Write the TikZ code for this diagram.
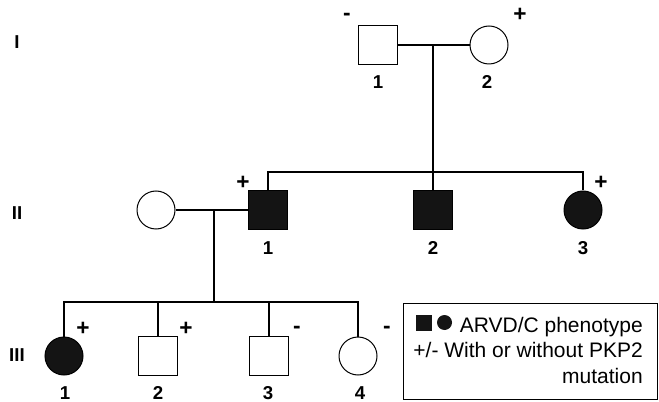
\documentclass[tikz,border=0pt]{standalone}
\usepackage{fontspec}
\setmainfont{Liberation Sans}

\begin{document}
\begin{tikzpicture}[x=0.75pt,y=0.75pt,yscale=-1,xscale=1,
  male/.style={draw,rectangle,minimum size=29pt,inner sep=0pt,line width=0.75pt},
  female/.style={draw,circle,minimum size=28.5pt,inner sep=0pt,line width=0.75pt},
  affected/.style={fill=black!92},
  kin/.style={line width=1.1pt},
  idlabel/.style={font=\fontsize{14}{16}\selectfont\bfseries,inner sep=0.75pt},
  genlabel/.style={font=\fontsize{14}{16}\selectfont\bfseries,inner sep=0.75pt},
  sign/.style={font=\fontsize{17}{18}\selectfont\bfseries,inner sep=0.75pt},
  keytext/.style={font=\fontsize{15.75}{19}\selectfont,inner sep=0pt,anchor=base east}]
\useasboundingbox (0,0) rectangle (659,402);

%Generation I
\node [male] (i1) at (378,45) {};
\node [female] (i2) at (489,45) {};
\coordinate (mI) at (433,45);
\coordinate (sII) at (433,172);

%Generation II
\node [female] (iis) at (156,210) {};
\node [male,affected] (ii1) at (268,210) {};
\node [male,affected] (ii2) at (433,210) {};
\node [female,affected] (ii3) at (583,210) {};
\coordinate (mII) at (214,210);
\coordinate (sIII) at (214,302);

%Generation III
\node [female,affected] (iii1) at (64,356) {};
\node [male] (iii2) at (158,356) {};
\node [male] (iii3) at (269,356) {};
\node [female] (iii4) at (358,356) {};

%Lines of descent
\draw [kin] (i1) -- (i2);
\draw [kin] (mI) -- (sII);
\draw [kin] (ii1) |- (sII) -| (ii3);
\draw [kin] (sII) -- (ii2);
\draw [kin] (iis) -- (ii1);
\draw [kin] (mII) -- (sIII);
\draw [kin] (iii1) |- (sIII) -| (iii4);
\draw [kin] (iii2) -- (iii2 |- sIII);
\draw [kin] (iii3) -- (iii3 |- sIII);

% Generation numerals
\node [genlabel] (gI) at (17,42) {I};
\node [genlabel] (gII) at (17,213) {II};
\node [genlabel] (gIII) at (17,355) {III};

% Individual numbers
\node [idlabel] (n-i1) at (378,82) {1};
\node [idlabel] (n-i2) at (487,82) {2};
\node [idlabel] (n-ii1) at (268,248) {1};
\node [idlabel] (n-ii2) at (433,248) {2};
\node [idlabel] (n-ii3) at (583,248) {3};
\node [idlabel] (n-iii1) at (65,393) {1};
\node [idlabel] (n-iii2) at (158,393) {2};
\node [idlabel] (n-iii3) at (268,393) {3};
\node [idlabel] (n-iii4) at (360,393) {4};

% Mutation status
\node [sign] (s-i1) at (347,17) {-};
\node [sign] (s-i2) at (520,15) {+};
\node [sign] (s-ii1) at (243,183) {+};
\node [sign] (s-ii3) at (601,183) {+};
\node [sign] (s-iii1) at (83,329) {+};
\node [sign] (s-iii2) at (186,329) {+};
\node [sign] (s-iii3) at (297,330) {-};
\node [sign] (s-iii4) at (387,330) {-};

%Shape: Key box
\draw [line width=0.75pt] (403,303) rectangle (657,399);
\node [rectangle,fill=black!92,minimum size=12pt,inner sep=0pt] (keysq) at (424,322.5) {};
\node [circle,fill=black!92,minimum size=11.25pt,inner sep=0pt] (keyci) at (444.5,322.5) {};
\node [keytext] (key1) at (643,332) {ARVD/C phenotype};
\node [keytext] (key2) at (643,357) {+/- With or without PKP2};
\node [keytext] (key3) at (643,383) {mutation};

\end{tikzpicture}
\end{document}
